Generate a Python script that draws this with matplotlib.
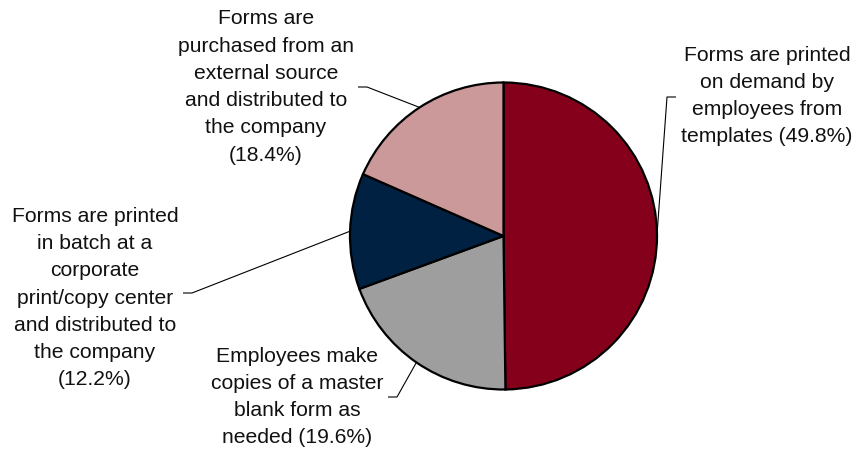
import numpy as np
import matplotlib
matplotlib.use("Agg")
import matplotlib.pyplot as plt

# Data
labels = [
    "Forms are printed\non demand by\nemployees from\ntemplates (49.8%)",
    "Employees make\ncopies of a master\nblank form as\nneeded (19.6%)",
    "Forms are printed\nin batch at a\ncorporate\nprint/copy center\nand distributed to\nthe company\n(12.2%)",
    "Forms are\npurchased from an\nexternal source\nand distributed to\nthe company\n(18.4%)",
]
values = [49.8, 19.6, 12.2, 18.4]
colors = ["#85001B", "#9E9E9E", "#002142", "#CC999A"]

W, H = 856, 451
plt.rcParams['font.family'] = ['Liberation Sans', 'DejaVu Sans']

fig = plt.figure(figsize=(W / 100, H / 100), dpi=100)
ax = fig.add_axes([0, 0, 1, 1])
ax.set_xlim(0, W)
ax.set_ylim(0, H)
ax.set_aspect('equal')
ax.axis('off')

def py(y):
    return H - y

cx, cy, r = 503.5, py(236), 153.5
wedges, _ = ax.pie(values, colors=colors, startangle=90, counterclock=False,
                   center=(cx, cy), radius=r,
                   wedgeprops=dict(edgecolor='black', linewidth=1.6))
ax.set_xlim(0, W)
ax.set_ylim(0, H)

# label layout: (text center x, text center y (pixels from top), anchor x, side)
layout = [
    (767, 96, 676, 'right'),
    (297, 397, 388, 'left'),
    (95, 298, 183, 'left'),
    (266, 87, 358, 'left'),
]
anchor_y = [97, 397, 293, 87]

for w, lab, (tx, ty, ax_x, side), ayp in zip(wedges, labels, layout, anchor_y):
    ang = np.deg2rad((w.theta1 + w.theta2) / 2)
    ex, ey = cx + r * np.cos(ang), cy + r * np.sin(ang)
    ay = py(ayp)
    elbow_x = ax_x - 9 if side == 'right' else ax_x + 9
    ax.plot([ex, elbow_x, ax_x], [ey, ay, ay], color='black', lw=0.8,
            solid_capstyle='butt', zorder=3)
    ax.text(tx, py(ty), lab, ha='center', va='center', multialignment='center',
            fontsize=15.2, linespacing=1.55, color='#111111')

fig.savefig("out.png", dpi=100)
